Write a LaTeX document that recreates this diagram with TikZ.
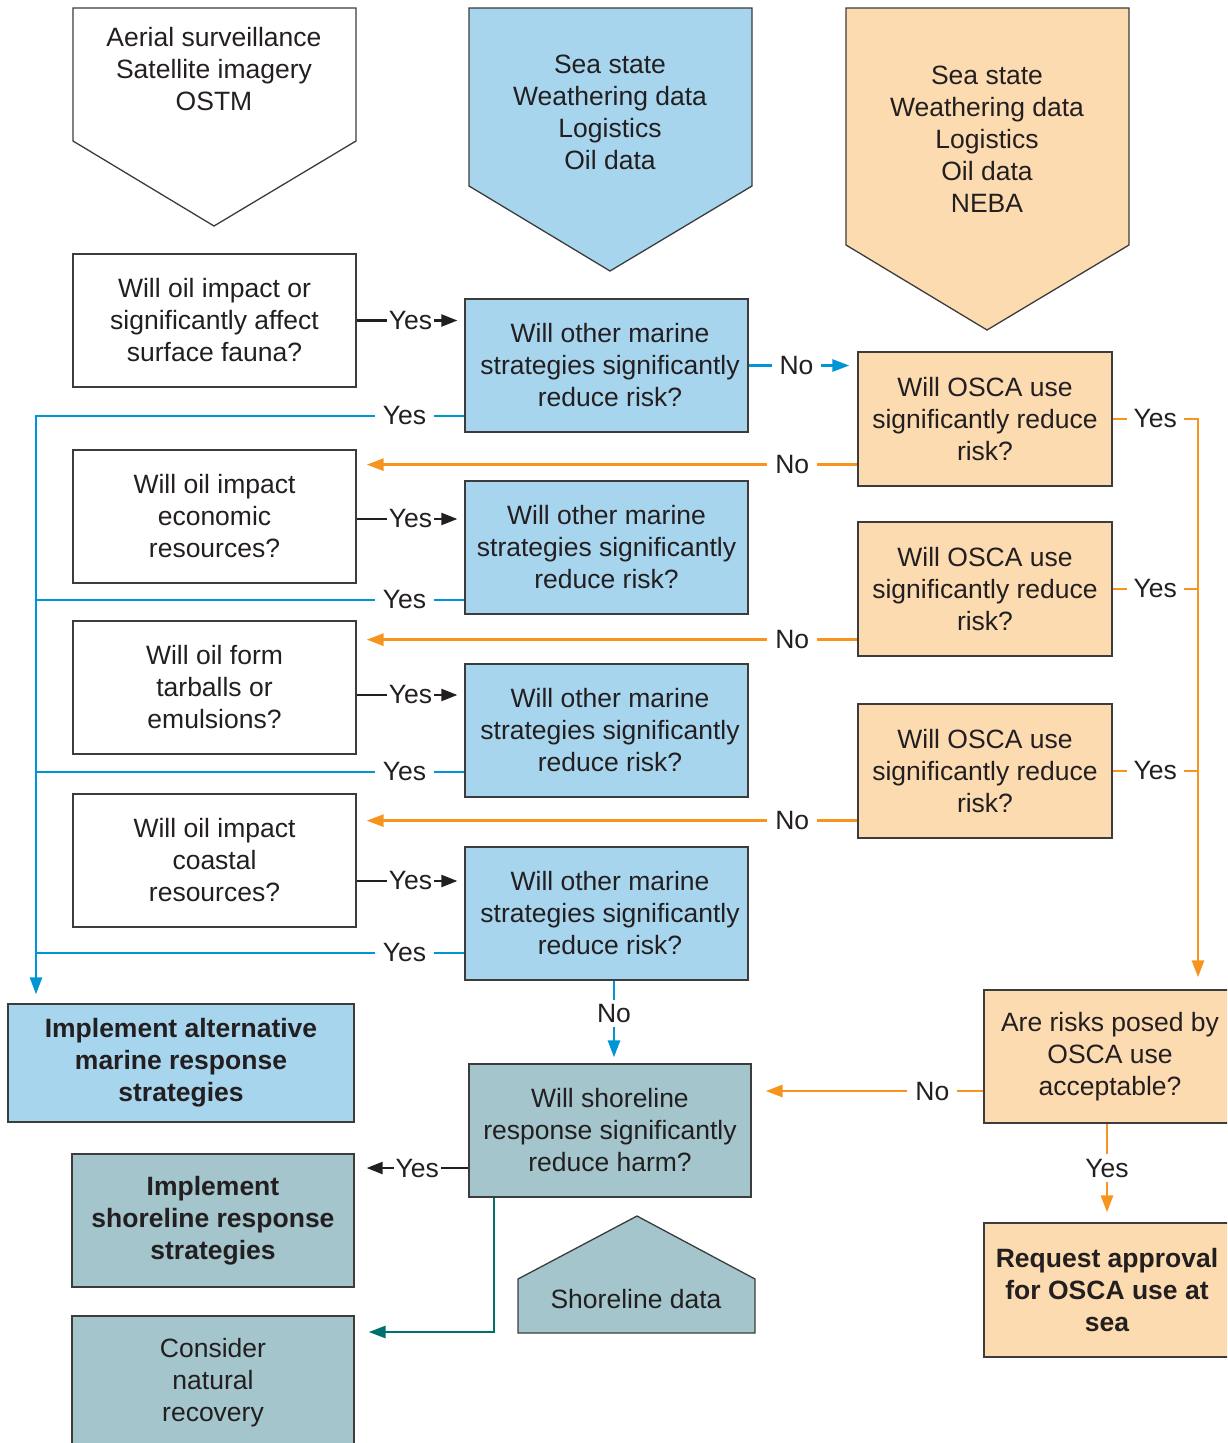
\documentclass[tikz,border=0pt]{standalone}
\usepackage{fontspec}
\setmainfont{Liberation Sans}
\usetikzlibrary{arrows.meta,calc}
\definecolor{txt}{HTML}{231F20}
\definecolor{bord}{HTML}{3C3C3C}
\definecolor{bfill}{HTML}{A7D5EE}
\definecolor{ofill}{HTML}{FDDBB1}
\definecolor{tfill}{HTML}{A3C5CB}
\definecolor{bline}{HTML}{0096D6}
\definecolor{oline}{HTML}{F7941E}
\definecolor{tline}{HTML}{00706F}
\begin{document}
\begin{tikzpicture}[x=1pt,y=-1pt,
  every node/.style={font=\fontsize{26.5}{32}\selectfont, text=txt},
  box/.style={draw=bord, line width=1.3pt, align=center, minimum width=283, minimum height=133, inner sep=0pt},
  wbox/.style={box, fill=white},
  bbox/.style={box, fill=bfill},
  obox/.style={box, fill=ofill},
  tbox/.style={box, fill=tfill},
  pent/.style={draw=bord, line width=1.3pt},
  lblk/.style={fill=white, inner xsep=2pt, inner ysep=1pt},
  lblc/.style={fill=white, inner xsep=8pt, inner ysep=1pt},
  blk/.style={draw=txt, line width=2.4pt},
  bl/.style={draw=bline, line width=2.8pt},
  ol/.style={draw=oline, line width=2.8pt},
  tl/.style={draw=tline, line width=2.8pt},
  tipk/.style={-{Triangle[length=16pt,width=12pt]}},
  tipc/.style={-{Triangle[length=17pt,width=12pt]}}
]
\useasboundingbox (0,0) rectangle (1227,1443);
\clip (0,0) rectangle (1227,1443);

% data pentagons
\draw[pent, fill=white] (73,8) -- (356,8) -- (356,141) -- (214,226) -- (73,141) -- cycle;
\node[align=center] (P1) at (214,69) {Aerial surveillance\\Satellite imagery\\OSTM};
\draw[pent, fill=bfill] (469,8) -- (752,8) -- (752,186) -- (610,271) -- (469,186) -- cycle;
\node[align=center] (P2) at (610,112) {Sea state\\Weathering data\\Logistics\\Oil data};
\draw[pent, fill=ofill] (846,8) -- (1129,8) -- (1129,245) -- (987,330) -- (846,245) -- cycle;
\node[align=center] (P3) at (987,139) {Sea state\\Weathering data\\Logistics\\Oil data\\NEBA};
\draw[pent, fill=tfill] (518,1333) -- (518,1279) -- (637,1216) -- (755,1279) -- (755,1333) -- cycle;
\node (P4) at (636,1299) {Shoreline data};

% left column
\node[wbox] (A1) at (214.5,320.5) {Will oil impact or\\significantly affect\\surface fauna?};
\node[wbox] (A2) at (214.5,516.5) {Will oil impact\\economic\\resources?};
\node[wbox] (A3) at (214.5,687.5) {Will oil form\\tarballs or\\emulsions?};
\node[wbox] (A4) at (214.5,860.5) {Will oil impact\\coastal\\resources?};

% middle column
\node[bbox, inner xsep=0pt] (B1) at (606.5,365.5) {\hspace*{7pt}Will other marine\\\hspace*{7pt}strategies significantly\\\hspace*{7pt}reduce risk?};
\node[bbox] (B2) at (606.5,547.5) {Will other marine\\strategies significantly\\reduce risk?};
\node[bbox] (B3) at (606.5,730.5) {\hspace*{7pt}Will other marine\\\hspace*{7pt}strategies significantly\\\hspace*{7pt}reduce risk?};
\node[bbox] (B4) at (606.5,913.5) {\hspace*{7pt}Will other marine\\\hspace*{7pt}strategies significantly\\\hspace*{7pt}reduce risk?};

% right column
\node[obox, minimum width=254, minimum height=134] (C1) at (985,419) {Will OSCA use\\significantly reduce\\risk?};
\node[obox, minimum width=254, minimum height=134] (C2) at (985,589) {Will OSCA use\\significantly reduce\\risk?};
\node[obox, minimum width=254, minimum height=134] (C3) at (985,771) {Will OSCA use\\significantly reduce\\risk?};
\node[obox, minimum width=252, minimum height=133] (D) at (1110,1056.5) {Are risks posed by\\OSCA use\\acceptable?};
\node[obox, minimum width=246, minimum height=134, font=\fontsize{26.5}{32}\selectfont\bfseries] (E) at (1107,1290) {Request approval\\for OSCA use at\\sea};

% bottom
\node[bbox, minimum width=346, minimum height=118, font=\fontsize{26.5}{32}\selectfont\bfseries] (F) at (181,1063) {Implement alternative\\marine response\\strategies};
\node[tbox, minimum width=282] (G) at (610,1130.5) {Will shoreline\\response significantly\\reduce harm?};
\node[tbox, minimum width=282, font=\fontsize{26.5}{32}\selectfont\bfseries] (H) at (213,1220.5) {Implement\\shoreline response\\strategies};
\node[tbox, minimum width=282, minimum height=134] (I) at (213,1383) {Consider\\natural\\recovery};

% black Yes arrows
\draw[blk, tipk, shorten >=7pt] (A1.east) -- node[lblk]{Yes} (A1.east -| B1.west);
\draw[blk, tipk, shorten >=7pt] ([yshift=-2.5pt]A2.east) -- node[lblk]{Yes} ([yshift=-2.5pt]A2.east -| B2.west);
\draw[blk, tipk, shorten >=7pt] ([yshift=-7.5pt]A3.east) -- node[lblk]{Yes} ([yshift=-7.5pt]A3.east -| B3.west);
\draw[blk, tipk, shorten >=7pt] ([yshift=-20.5pt]A4.east) -- node[lblk]{Yes} ([yshift=-20.5pt]A4.east -| B4.west);

% blue Yes lines to trunk
\coordinate (j1) at (36,416);
\coordinate (j2) at (36,600);
\coordinate (j3) at (36,772);
\coordinate (j4) at (36,953);
\draw[bl] (j1 -| B1.west) -- node[lblc, pos=0.14]{Yes} (j1);
\draw[bl] (j2 -| B2.west) -- node[lblc, pos=0.14]{Yes} (j2);
\draw[bl] (j3 -| B3.west) -- node[lblc, pos=0.14]{Yes} (j3);
\draw[bl] (j4 -| B4.west) -- node[lblc, pos=0.14]{Yes} (j4);
\draw[bl, tipc, shorten >=9pt] ([yshift=1.4pt]j1) -- (j1 |- F.north);

% blue No
\draw[bl, tipc, shorten >=8pt] (B1.east) -- node[lblc, pos=0.44]{No} (B1.east -| C1.west);
\draw[bl, tipc, shorten >=6pt] ([xshift=7.5pt]B4.south) -- node[lblc, inner xsep=1pt, inner ysep=4pt, pos=0.4]{No} ([xshift=7.5pt]B4.south |- G.north);

% orange No lines back to left
\draw[ol, tipc, shorten >=10pt] ([yshift=22pt]C1.south west) -- node[lblc, pos=0.13]{No} ([yshift=22pt]C1.south west -| A2.east);
\draw[ol, tipc, shorten >=10pt] ([yshift=17pt]C2.south west) -- node[lblc, pos=0.13]{No} ([yshift=17pt]C2.south west -| A3.east);
\draw[ol, tipc, shorten >=10pt] ([yshift=18pt]C3.south west) -- node[lblc, pos=0.13]{No} ([yshift=18pt]C3.south west -| A4.east);

% orange Yes lines to right trunk
\coordinate (rx) at (1198,0);
\draw[ol] (C1.east) -- node[lblc, inner xsep=7pt]{Yes} (C1.east -| rx);
\draw[ol] (C2.east) -- node[lblc, inner xsep=7pt]{Yes} (C2.east -| rx);
\draw[ol] (C3.east) -- node[lblc, inner xsep=7pt]{Yes} (C3.east -| rx);
\draw[ol, tipc, shorten >=12pt] ([yshift=1.4pt]C1.east -| rx) -- (rx |- D.north);

% D outputs
\draw[ol, tipc, shorten >=14pt] ([yshift=-34.5pt]D.west) -- node[lblc, pos=0.22]{No} ([yshift=-34.5pt]D.west -| G.east);
\draw[ol, tipc, shorten >=10pt] ([xshift=-3pt]D.south) -- node[lblc, inner xsep=1pt, inner ysep=5pt, pos=0.45]{Yes} ([xshift=-3pt]D.south |- E.north);

% G outputs
\draw[blk, tipk, shorten >=12pt] ([yshift=-37.5pt]G.west) -- node[lblk, pos=0.45]{Yes} ([yshift=-37.5pt]G.west -| H.east);
\coordinate (tc) at (494,1332);
\draw[tl, tipc, shorten >=14pt] (G.south west -| tc) -- (tc) -- (tc -| I.east);
\end{tikzpicture}
\end{document}
